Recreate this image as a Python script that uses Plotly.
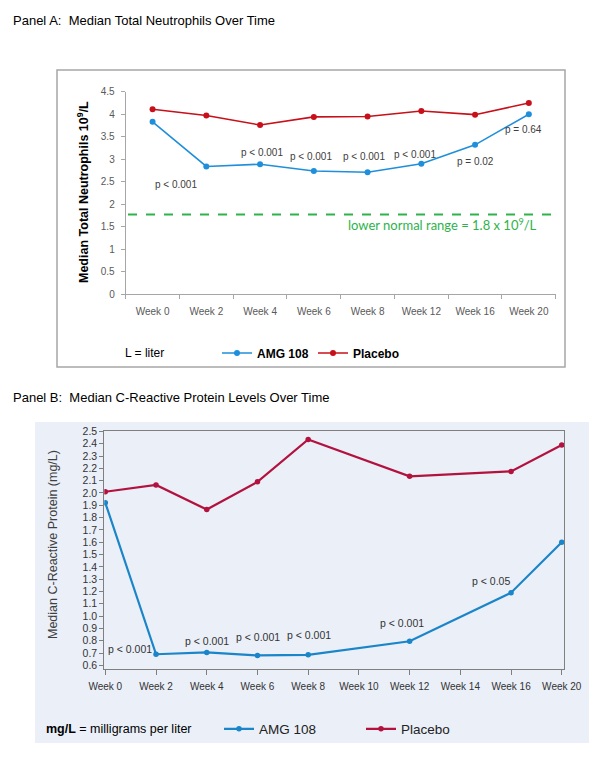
import plotly.graph_objects as go

W, H = 600, 774
OFF = 8  # page body margin offset compensation

# ---------------- Data ----------------
weeks_a = ["Week 0", "Week 2", "Week 4", "Week 6", "Week 8", "Week 12", "Week 16", "Week 20"]
amg_a = [3.83, 2.84, 2.89, 2.74, 2.71, 2.90, 3.32, 4.00]
placebo_a = [4.11, 3.97, 3.76, 3.94, 3.95, 4.07, 3.99, 4.25]
pvals_a = ["p < 0.001", "p < 0.001", "p < 0.001", "p < 0.001", "p < 0.001", "p = 0.02", "p = 0.64"]
lower_normal = 1.77
lower_normal_label = "lower normal range = 1.8 x 10<sup>9</sup>/L"

weeks_b_axis = ["Week 0", "Week 2", "Week 4", "Week 6", "Week 8", "Week 10", "Week 12", "Week 14", "Week 16", "Week 20"]
weeks_b = ["Week 0", "Week 2", "Week 4", "Week 6", "Week 8", "Week 12", "Week 16", "Week 20"]
amg_b = [1.92, 0.69, 0.705, 0.68, 0.685, 0.795, 1.19, 1.60]
placebo_b = [2.01, 2.065, 1.865, 2.09, 2.435, 2.135, 2.175, 2.39]
pvals_b = ["p < 0.001", "p < 0.001", "p < 0.001", "p < 0.001", "p < 0.001", "p < 0.05"]
yticks_b = [round(0.6 + 0.1 * i, 1) for i in range(20)]

# label placement (axis units) -- styling only
pos_a = [(0.44, 2.45), (2.04, 3.16), (2.95, 3.05), (3.94, 3.05), (4.88, 3.10), (6.01, 2.94), (6.91, 3.67)]
pos_b = [(0.48, 0.73), (2.0, 0.80), (3.02, 0.83), (4.02, 0.85), (5.85, 0.94), (7.6, 1.285)]

# ---------------- Styling ----------------
ARIAL = "Liberation Sans, Arial, sans-serif"
BLUE_A, RED_A = "#1f8fdc", "#c8101a"
BLUE_B, RED_B = "#1a85c8", "#b3123f"
GREEN = "#2db34a"

def px(x):
    return (x - OFF) / W

def py(y):
    return 1 - (y - OFF) / H

fig = go.Figure()

fig.add_trace(go.Scatter(x=weeks_a, y=amg_a, name="AMG 108", mode="lines+markers",
                         line=dict(color=BLUE_A, width=1.6), marker=dict(size=6, color=BLUE_A),
                         xaxis="x", yaxis="y", legend="legend"))
fig.add_trace(go.Scatter(x=weeks_a, y=placebo_a, name="Placebo", mode="lines+markers",
                         line=dict(color=RED_A, width=1.6), marker=dict(size=6, color=RED_A),
                         xaxis="x", yaxis="y", legend="legend"))
fig.add_trace(go.Scatter(x=weeks_b, y=amg_b, name="AMG 108", mode="lines+markers",
                         line=dict(color=BLUE_B, width=2.2), marker=dict(size=5.5, color=BLUE_B),
                         xaxis="x2", yaxis="y2", legend="legend2"))
fig.add_trace(go.Scatter(x=weeks_b, y=placebo_b, name="Placebo", mode="lines+markers",
                         line=dict(color=RED_B, width=2.2), marker=dict(size=5.5, color=RED_B),
                         xaxis="x2", yaxis="y2", legend="legend2"))

axis_gray = "#a6a6a6"
fig.update_layout(
    width=W, height=H, margin=dict(l=0, r=0, t=0, b=0, autoexpand=False),
    paper_bgcolor="white", plot_bgcolor="white",
    xaxis=dict(domain=[px(125.7), px(555.7)], anchor="y", type="category",
               categoryorder="array", categoryarray=weeks_a, range=[-0.5, 7.5],
               showline=True, linecolor=axis_gray, linewidth=1, showgrid=False, zeroline=False,
               ticks="outside", tickson="boundaries", ticklen=4, tickcolor=axis_gray,
               ticklabelstandoff=8,
               tickfont=dict(family=ARIAL, size=10, color="#595959"), automargin=False),
    yaxis=dict(domain=[py(294.3), py(91.7)], anchor="x", range=[0, 4.5], dtick=0.5,
               showline=True, linecolor=axis_gray, linewidth=1, showgrid=False, zeroline=False,
               ticks="outside", ticklen=4, tickcolor=axis_gray, ticklabelstandoff=4,
               tickfont=dict(family=ARIAL, size=10, color="#595959"), automargin=False),
    xaxis2=dict(domain=[px(104.3), px(564.3)], anchor="y2", type="category",
                categoryorder="array", categoryarray=weeks_b_axis, range=[-0.02, 9.05],
                showline=True, mirror=True, linecolor="#7f7f7f", linewidth=1, showgrid=False,
                zeroline=False, ticks="outside", ticklen=5, tickcolor="#7f7f7f",
                ticklabelstandoff=3,
                tickfont=dict(family=ARIAL, size=10, color="#333333"), automargin=False),
    yaxis2=dict(domain=[py(669), py(431.4)], anchor="x2", range=[0.57, 2.5],
                tickvals=yticks_b, ticktext=[f"{v:.1f}" for v in yticks_b],
                showline=True, mirror=True, linecolor="#7f7f7f", linewidth=1, showgrid=False,
                zeroline=False, ticks="outside", ticklen=4, tickcolor="#7f7f7f",
                tickfont=dict(family=ARIAL, size=10.5, color="#333333"), automargin=False),
    legend=dict(orientation="h", x=px(217), y=py(353), xanchor="left", yanchor="middle",
                bgcolor="rgba(0,0,0,0)", font=dict(family=ARIAL, size=12, color="black", weight="bold"),
                entrywidth=51, tracegroupgap=0, itemclick=False),
    legend2=dict(orientation="h", x=px(219), y=py(729), xanchor="left", yanchor="middle",
                 bgcolor="rgba(0,0,0,0)", font=dict(family=ARIAL, size=13.5, color="#222222"),
                 entrywidth=97, tracegroupgap=0, itemclick=False),
    showlegend=True,
)

shapes = [
    # Panel A frame
    dict(type="rect", xref="paper", yref="paper", x0=px(57), x1=px(565), y0=py(367), y1=py(70),
         line=dict(color="#a6a6a6", width=1.5), layer="below"),
    # Panel B background
    dict(type="rect", xref="paper", yref="paper", x0=px(35), x1=px(589), y0=py(743), y1=py(422),
         line=dict(width=0), fillcolor="#eaeff8", layer="below"),
    # lower normal line
    dict(type="line", xref="paper", yref="y", x0=px(128), x1=px(560), y0=lower_normal, y1=lower_normal,
         line=dict(color=GREEN, width=2, dash="dash")),
]
fig.update_layout(shapes=shapes)

ann = [
    dict(text="Panel A:  Median Total Neutrophils Over Time", xref="paper", yref="paper",
         x=px(11), y=py(20), xanchor="left", yanchor="middle", showarrow=False,
         font=dict(family=ARIAL, size=13, color="black")),
    dict(text="Panel B:  Median C-Reactive Protein Levels Over Time", xref="paper", yref="paper",
         x=px(11), y=py(397), xanchor="left", yanchor="middle", showarrow=False,
         font=dict(family=ARIAL, size=13, color="black")),
    dict(text="Median Total Neutrophils 10<sup>9</sup>/L", xref="paper", yref="paper",
         x=px(83), y=py(192), textangle=-90, xanchor="center", yanchor="middle", showarrow=False,
         font=dict(family=ARIAL, size=12.5, color="black", weight="bold")),
    dict(text="Median C-Reactive Protein (mg/L)", xref="paper", yref="paper",
         x=px(53), y=py(545), textangle=-90, xanchor="center", yanchor="middle", showarrow=False,
         font=dict(family=ARIAL, size=12.5, color="#404040")),
    dict(text=lower_normal_label, xref="paper", yref="paper", x=px(442), y=py(224),
         xanchor="center", yanchor="middle", showarrow=False,
         font=dict(family="Lato, Open Sans, sans-serif", size=13, color=GREEN)),
    dict(text="L = liter", xref="paper", yref="paper", x=px(123), y=py(353),
         xanchor="left", yanchor="middle", showarrow=False,
         font=dict(family=ARIAL, size=12, color="black")),
    dict(text="<b>mg/L</b> = milligrams per liter", xref="paper", yref="paper", x=px(44), y=py(729),
         xanchor="left", yanchor="middle", showarrow=False,
         font=dict(family=ARIAL, size=12.5, color="black")),
]
for t, (xx, yy) in zip(pvals_a, pos_a):
    ann.append(dict(text=t, xref="x", yref="y", x=xx, y=yy, showarrow=False,
                    xanchor="center", yanchor="middle",
                    font=dict(family=ARIAL, size=10, color="#404040")))
for t, (xx, yy) in zip(pvals_b, pos_b):
    ann.append(dict(text=t, xref="x2", yref="y2", x=xx, y=yy, showarrow=False,
                    xanchor="center", yanchor="middle",
                    font=dict(family=ARIAL, size=10.5, color="#333333")))
fig.update_layout(annotations=ann)

fig.write_html("out.html")
